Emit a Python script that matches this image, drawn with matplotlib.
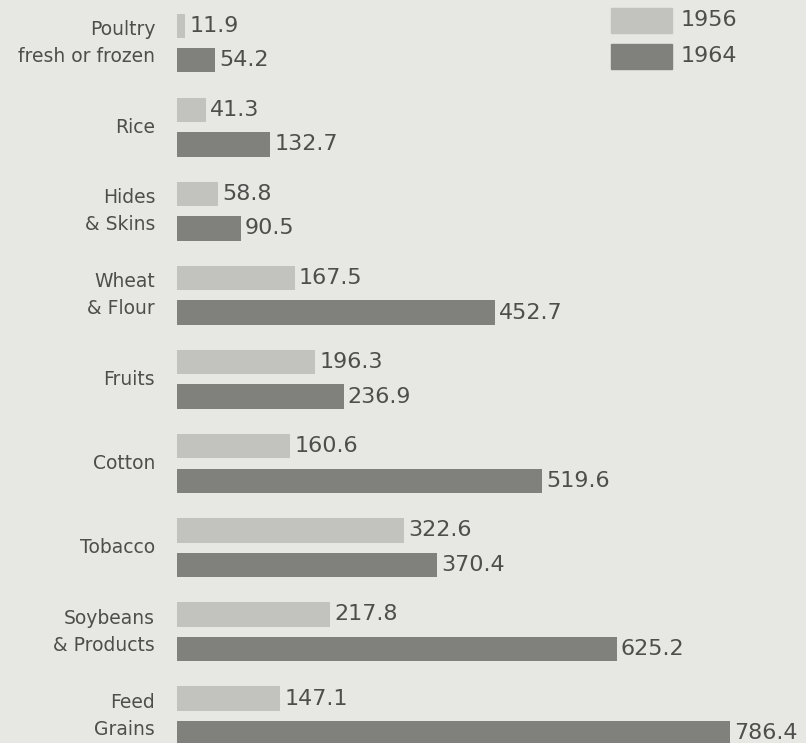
import matplotlib.pyplot as plt
from matplotlib.patches import Rectangle

categories = ["Poultry\nfresh or frozen", "Rice", "Hides\n& Skins", "Wheat\n& Flour",
              "Fruits", "Cotton", "Tobacco", "Soybeans\n& Products", "Feed\nGrains"]
v1956 = [11.9, 41.3, 58.8, 167.5, 196.3, 160.6, 322.6, 217.8, 147.1]
v1964 = [54.2, 132.7, 90.5, 452.7, 236.9, 519.6, 370.4, 625.2, 786.4]
years = ["1956", "1964"]

bg = "#e7e7e3"
light = "#c2c2bf"
dark = "#80807d"
txt = "#4e4e4c"

W, H = 806, 743
fig = plt.figure(figsize=(W / 100, H / 100), dpi=100, facecolor=bg)
ax = fig.add_axes([177 / W, 0, 1 - 177 / W, 1])
ax.set_facecolor(bg)

pos = list(range(len(categories)))
off = 0.205
hgt = 0.29
ax.barh([p - off for p in pos], v1956, height=hgt, color=light)
ax.barh([p + off for p in pos], v1964, height=hgt, color=dark)

for p, a, b in zip(pos, v1956, v1964):
    ax.annotate(f"{a}", (a, p - off), xytext=(3, 0), textcoords="offset points",
                va="center", ha="left", fontsize=16, color=txt)
    ax.annotate(f"{b}", (b, p + off), xytext=(3, 0), textcoords="offset points",
                va="center", ha="left", fontsize=16, color=txt)
    ax.text(-31, p, categories[p], ha="right", va="center", fontsize=13.5,
            color=txt, linespacing=1.55)

ax.set_xlim(0, (W - 177) / 0.703)
ax.set_ylim((H - 43) / 84.1, -43 / 84.1)
ax.axis("off")

# legend in the top right
for i, (c, y) in enumerate(zip([light, dark], years)):
    top = 8 + i * 36
    fig.add_artist(Rectangle((611 / W, 1 - (top + 25) / H), 61 / W, 25 / H,
                             transform=fig.transFigure, color=c))
    fig.text(681 / W, 1 - (top + 12.5) / H, y, ha="left", va="center",
             fontsize=16, color=txt)

fig.savefig("out.png", dpi=100, facecolor=bg)
